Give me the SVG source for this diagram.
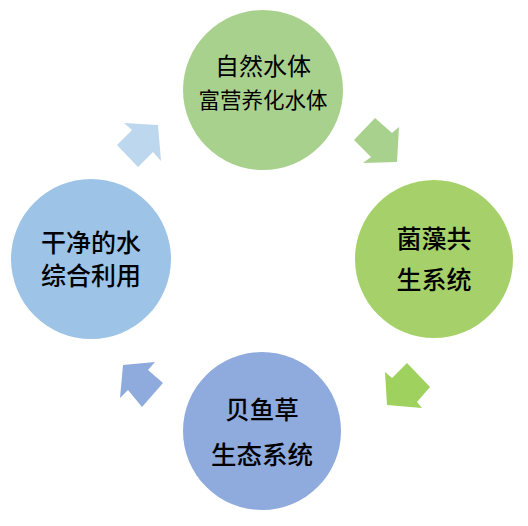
<svg xmlns="http://www.w3.org/2000/svg" width="528" height="526" viewBox="0 0 528 526">
<style>
.t{font-family:"Noto Sans CJK SC","Noto Sans",sans-serif;fill:#000;text-anchor:middle;dominant-baseline:central}
.b{font-weight:500}
</style>
<rect width="528" height="526" fill="#fff"/>
<g id="connectors">
<polygon points="124,123 158,125 161,161 153,152 138,167 117,145 132,130" fill="#bdd7ee"/>
<polygon points="375,118 392,133 399,127 397,162 363,163 371,157 354,140" fill="#a9d18e"/>
<polygon points="385,372 392,378 407,363 430,387 417,402 422,408 387,405" fill="#9fd15f"/>
<polygon points="123,365 155,362 148,370 163,383 142,407 128,390 120,398" fill="#8faadc"/>
</g>
<g id="node-top">
<circle cx="263" cy="90" r="80" fill="#a9d18e"/>
<text class="t" x="263" y="64" font-size="24">自然水体</text>
<text class="t" x="263" y="98" font-size="21.5">富营养化水体</text>
</g>
<g id="node-right">
<circle cx="434" cy="259" r="79" fill="#a6d16a"/>
<text class="t b" x="434" y="237" font-size="25">菌藻共</text>
<text class="t b" x="434" y="278" font-size="25">生系统</text>
</g>
<g id="node-bottom">
<circle cx="262" cy="431" r="79" fill="#8faadc"/>
<text class="t b" x="262" y="408" font-size="24.5">贝鱼草</text>
<text class="t b" x="262" y="452" font-size="25.5">生态系统</text>
</g>
<g id="node-left">
<circle cx="91" cy="259" r="80" fill="#9dc3e6"/>
<text class="t b" x="91" y="241" font-size="25">干净的水</text>
<text class="t b" x="91" y="274" font-size="25">综合利用</text>
</g>
</svg>
